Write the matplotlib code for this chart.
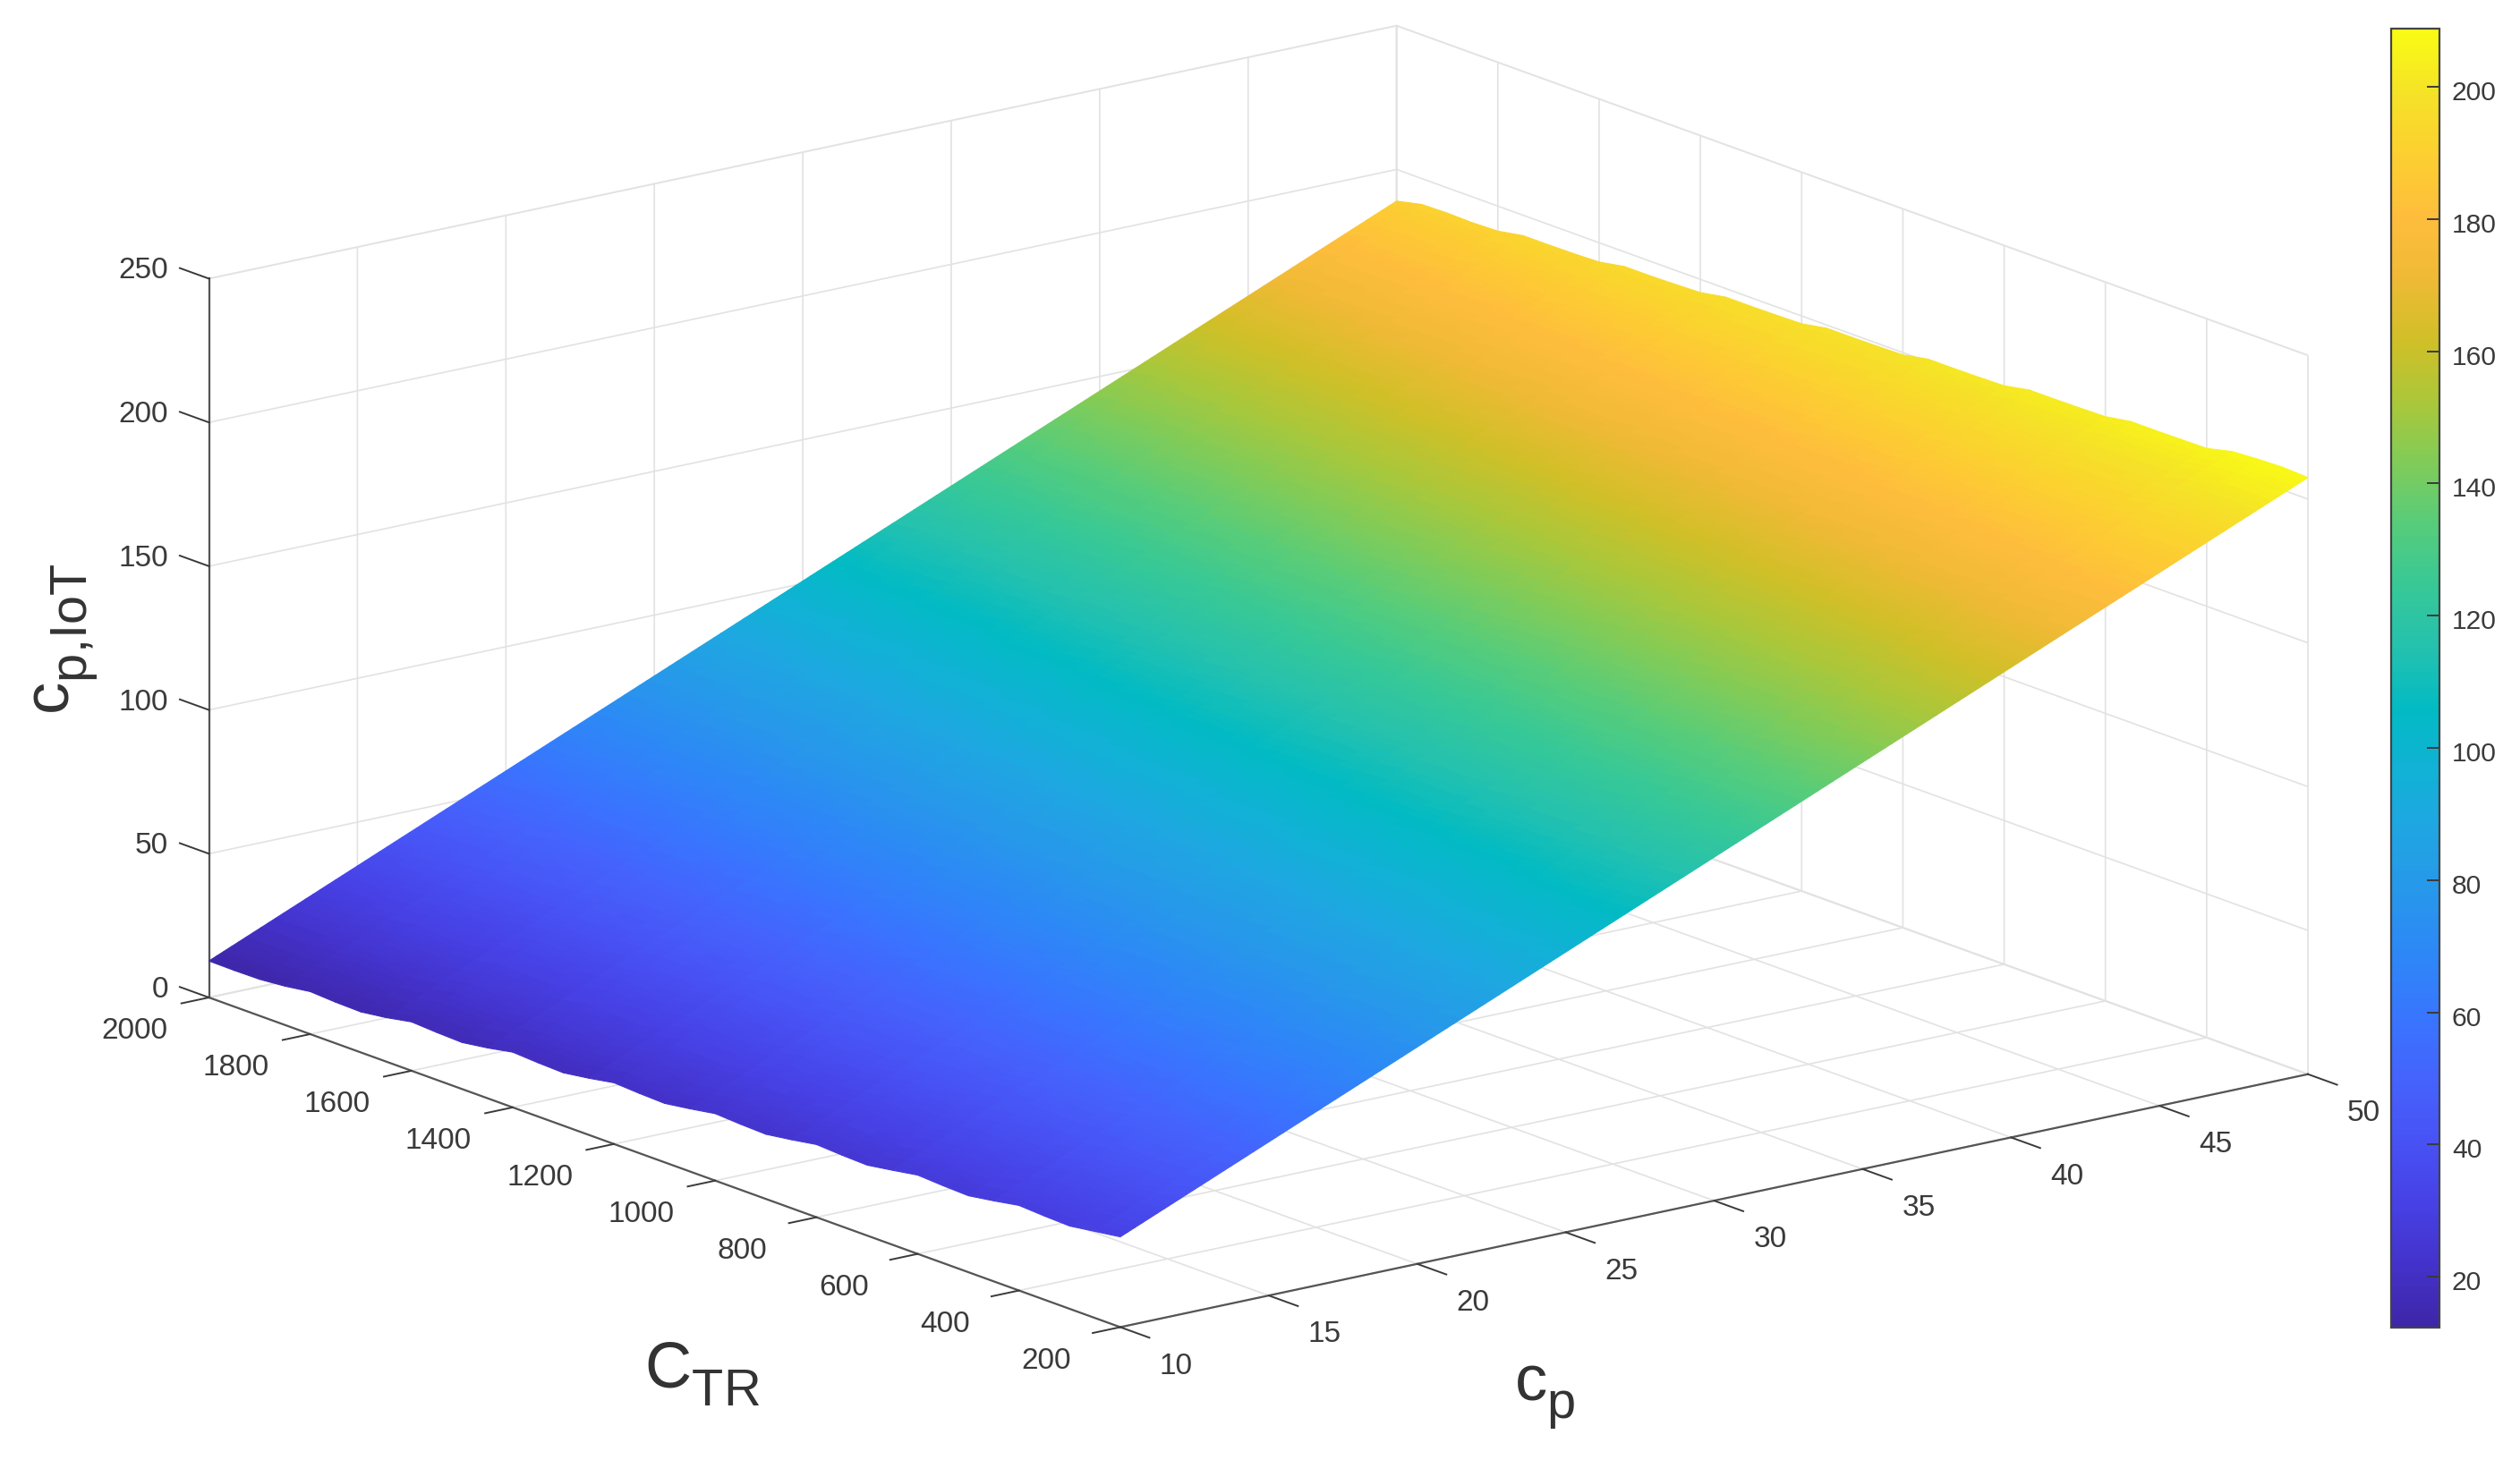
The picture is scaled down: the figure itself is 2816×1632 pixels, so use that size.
import numpy as np
import matplotlib
matplotlib.use("Agg")
import matplotlib.pyplot as plt
from matplotlib import _mathtext
from matplotlib.colors import LinearSegmentedColormap
from matplotlib.transforms import Affine2D
from mpl_toolkits.mplot3d import proj3d

plt.rcParams['font.family'] = ['Liberation Sans', 'DejaVu Sans']
plt.rcParams['mathtext.fontset'] = 'custom'
plt.rcParams['mathtext.rm'] = 'Liberation Sans'
plt.rcParams['mathtext.default'] = 'rm'
# larger, lower subscripts as in the reference
_mathtext.SHRINK_FACTOR = 0.8
_mathtext.FontConstantsBase.sub1 = 0.55

# ---- data ----
ctr_values = [2000, 1950, 1900, 1850, 1800, 1750, 1700, 1650, 1600, 1550, 1500, 1450, 1400,
              1350, 1300, 1250, 1200, 1150, 1100, 1050, 1000, 950, 900, 850, 800, 750, 700,
              650, 600, 550, 500, 450, 400, 350, 300, 250, 200]
z_at_cp10 = [12.7, 12.6, 12.7, 13.5, 14.8, 14.3, 14.1, 15.3, 17.0, 16.5, 16.2, 17.5, 19.2,
             18.7, 18.4, 19.7, 21.3, 20.8, 20.5, 21.8, 23.3, 22.8, 22.5, 23.8, 25.3, 24.8,
             24.5, 25.9, 27.4, 26.9, 26.6, 28.0, 29.6, 29.1, 28.8, 30.1, 31.4]
z_at_cp50 = [189.0, 191.0, 191.2, 191.0, 191.3, 192.9, 192.9, 193.0, 193.3, 194.9, 194.9, 195.1,
             195.4, 197.0, 197.0, 197.1, 197.3, 198.9, 198.9, 199.0, 199.2, 200.9, 200.9, 201.0,
             201.2, 202.9, 202.9, 203.0, 203.2, 204.7, 204.7, 204.8, 204.9, 207.0, 207.6, 207.9,
             207.5]
cp_limits = [10, 50]
ctr_limits = [200, 2000]
z_limits = [0, 250]
clim = [12.3, 208.8]
cp_ticks = [10, 15, 20, 25, 30, 35, 40, 45, 50]
ctr_ticks = [200, 400, 600, 800, 1000, 1200, 1400, 1600, 1800, 2000]
z_ticks = [0, 50, 100, 150, 200, 250]
cbar_ticks = [20, 40, 60, 80, 100, 120, 140, 160, 180, 200]

parula = [(0.2422, 0.1504, 0.6603), (0.2647, 0.1978, 0.7952), (0.2783, 0.2559, 0.8991),
          (0.2810, 0.3228, 0.9579), (0.2699, 0.3892, 0.9906), (0.2206, 0.4603, 0.9973),
          (0.1786, 0.5289, 0.9682), (0.1540, 0.5902, 0.9218), (0.1248, 0.6459, 0.8883),
          (0.0689, 0.6948, 0.8394), (0.0067, 0.7312, 0.7660), (0.1408, 0.7584, 0.6842),
          (0.2161, 0.7843, 0.5923), (0.3406, 0.8008, 0.4789), (0.5044, 0.7993, 0.3480),
          (0.6720, 0.7793, 0.2227), (0.8203, 0.7498, 0.1535), (0.9393, 0.7288, 0.2100),
          (0.9956, 0.7434, 0.2371), (0.9892, 0.8136, 0.1885), (0.9610, 0.8890, 0.1537),
          (0.9769, 0.9839, 0.0805)]
cmap = LinearSegmentedColormap.from_list('parula_like', parula, N=256)

W, H = 2816, 1632
fig = plt.figure(figsize=(W / 200, H / 200), dpi=200, facecolor='white')
ax = fig.add_axes([0.1, 0.1, 0.8, 0.8], projection='3d', proj_type='ortho')
ax.view_init(elev=16.12, azim=232.5)
ax.set_box_aspect((1, 1, 0.5))
ax.set_xlim(*cp_limits, view_margin=0)
ax.set_ylim(*ctr_limits, view_margin=0)
ax.set_zlim(*z_limits, view_margin=0)
ax.patch.set_alpha(0)

# surface: interpolated shading across cp between the two read edges
ctr = np.array(ctr_values, float)
low = np.array(z_at_cp10)
high = np.array(z_at_cp50)
cp_mesh = np.linspace(cp_limits[0], cp_limits[1], 161)
frac = (cp_mesh - cp_limits[0]) / (cp_limits[1] - cp_limits[0])
X, Y = np.meshgrid(cp_mesh, ctr)
Z = low[:, None] + (high - low)[:, None] * frac[None, :]
surf = ax.plot_surface(X, Y, Z, rstride=1, cstride=1, cmap=cmap, vmin=clim[0], vmax=clim[1],
                       linewidth=0, antialiased=False, shade=False)
surf.set_edgecolor('face')
surf.set_linewidth(0.4)
surf.set_antialiased(True)

DARK = '#3a3a3a'
GRID = '#e2e2e2'
ax.set_xticks(cp_ticks)
ax.set_yticks(ctr_ticks)
ax.set_zticks(z_ticks)
for axis in (ax.xaxis, ax.yaxis, ax.zaxis):
    axis.pane.set_facecolor((1, 1, 1, 0))
    axis.pane.set_edgecolor(GRID)
    axis.pane.set_linewidth(0.7)
    axis.line.set_color('#555555')
    axis.line.set_linewidth(0.8)
    axis._axinfo['grid'].update(color=GRID, linewidth=0.6)
    axis._axinfo['tick']['linewidth'] = {True: 0.7, False: 0.7}
    axis.set_tick_params(labelsize=12, colors=DARK, pad=3)
ax.xaxis.set_ticks_position('lower')
ax.yaxis.set_ticks_position('lower')
ax.zaxis.set_ticks_position('upper')
ax.zaxis._get_tickdir = lambda pos: 1   # z ticks run along the CTR direction
ax.xaxis._axinfo['tick'].update(inward_factor=0.0, outward_factor=-0.40)
ax.yaxis._axinfo['tick'].update(inward_factor=0.0, outward_factor=-0.29)
ax.zaxis._axinfo['tick'].update(inward_factor=0.0, outward_factor=0.40)


def shift_tick_labels(axis, dx, dy):
    """Axis3D resets tick transforms in get_major_ticks, so wrap it to keep a pixel offset."""
    original = axis.get_major_ticks

    def wrapped(numticks=None):
        ticks = original(numticks)
        for tick in ticks:
            tick.label1.set_transform(ax.transData + Affine2D().translate(dx, dy))
        return ticks
    axis.get_major_ticks = wrapped


shift_tick_labels(ax.xaxis, 38, 0)
shift_tick_labels(ax.yaxis, -51, 4)
shift_tick_labels(ax.zaxis, 11, 22)
for tick in ax.zaxis.get_major_ticks():
    tick.label1.set_ha('right')


def px(p):
    xs, ys, _ = proj3d.proj_transform(p[0], p[1], p[2], ax.get_proj())
    return ax.transData.transform((xs, ys))


# place the 3D box so its corners land where they are in the reference
target_a = np.array([233.5, H - 1115.0])
target_b = np.array([2579.0, H - 1201.0])
l, b, s = 0.1 * W, 0.0 * H, 0.8 * W
for _ in range(4):
    ax.set_position([l / W, b / H, s / W, s / H])
    ax.apply_aspect()
    pa = px((cp_limits[0], ctr_limits[1], 0))
    pb = px((cp_limits[1], ctr_limits[0], 0))
    k = (target_b[0] - target_a[0]) / (pb[0] - pa[0])
    s *= k
    ax.set_position([l / W, b / H, s / W, s / H])
    ax.apply_aspect()
    pa = px((cp_limits[0], ctr_limits[1], 0))
    l += target_a[0] - pa[0]
    b += target_a[1] - pa[1]
ax.set_position([l / W, b / H, s / W, s / H])

# axis titles
fig.text(437 * 1.796 / W, 1 - 855 * 1.796 / H, r'$\mathrm{C_{TR}}$', fontsize=26, color='#333333',
         ha='center', va='center')
fig.text(961 * 1.796 / W, 1 - 870 * 1.796 / H, r'$\mathrm{c_{p}}$', fontsize=26, color='#333333',
         ha='center', va='center')
fig.text(41 * 1.796 / W, 1 - 398 * 1.796 / H, r'$\mathrm{c_{p{,}IoT}}$', fontsize=26, color='#333333',
         ha='center', va='center', rotation=90)

# colour bar
cax = fig.add_axes([2672 / W, 1 - 1484 / H, 54 / W, (1484 - 32) / H])
cb = fig.colorbar(surf, cax=cax, ticks=cbar_ticks)
cb.ax.tick_params(direction='in', length=5, width=0.7, colors=DARK, labelsize=10.8, pad=5)
cb.outline.set_edgecolor('#444444')
cb.outline.set_linewidth(0.8)
for lab in cb.ax.get_yticklabels():
    lab.set_transform(lab.get_transform() + Affine2D().translate(0, -4))

fig.savefig('out.png', dpi=200, facecolor='white')
